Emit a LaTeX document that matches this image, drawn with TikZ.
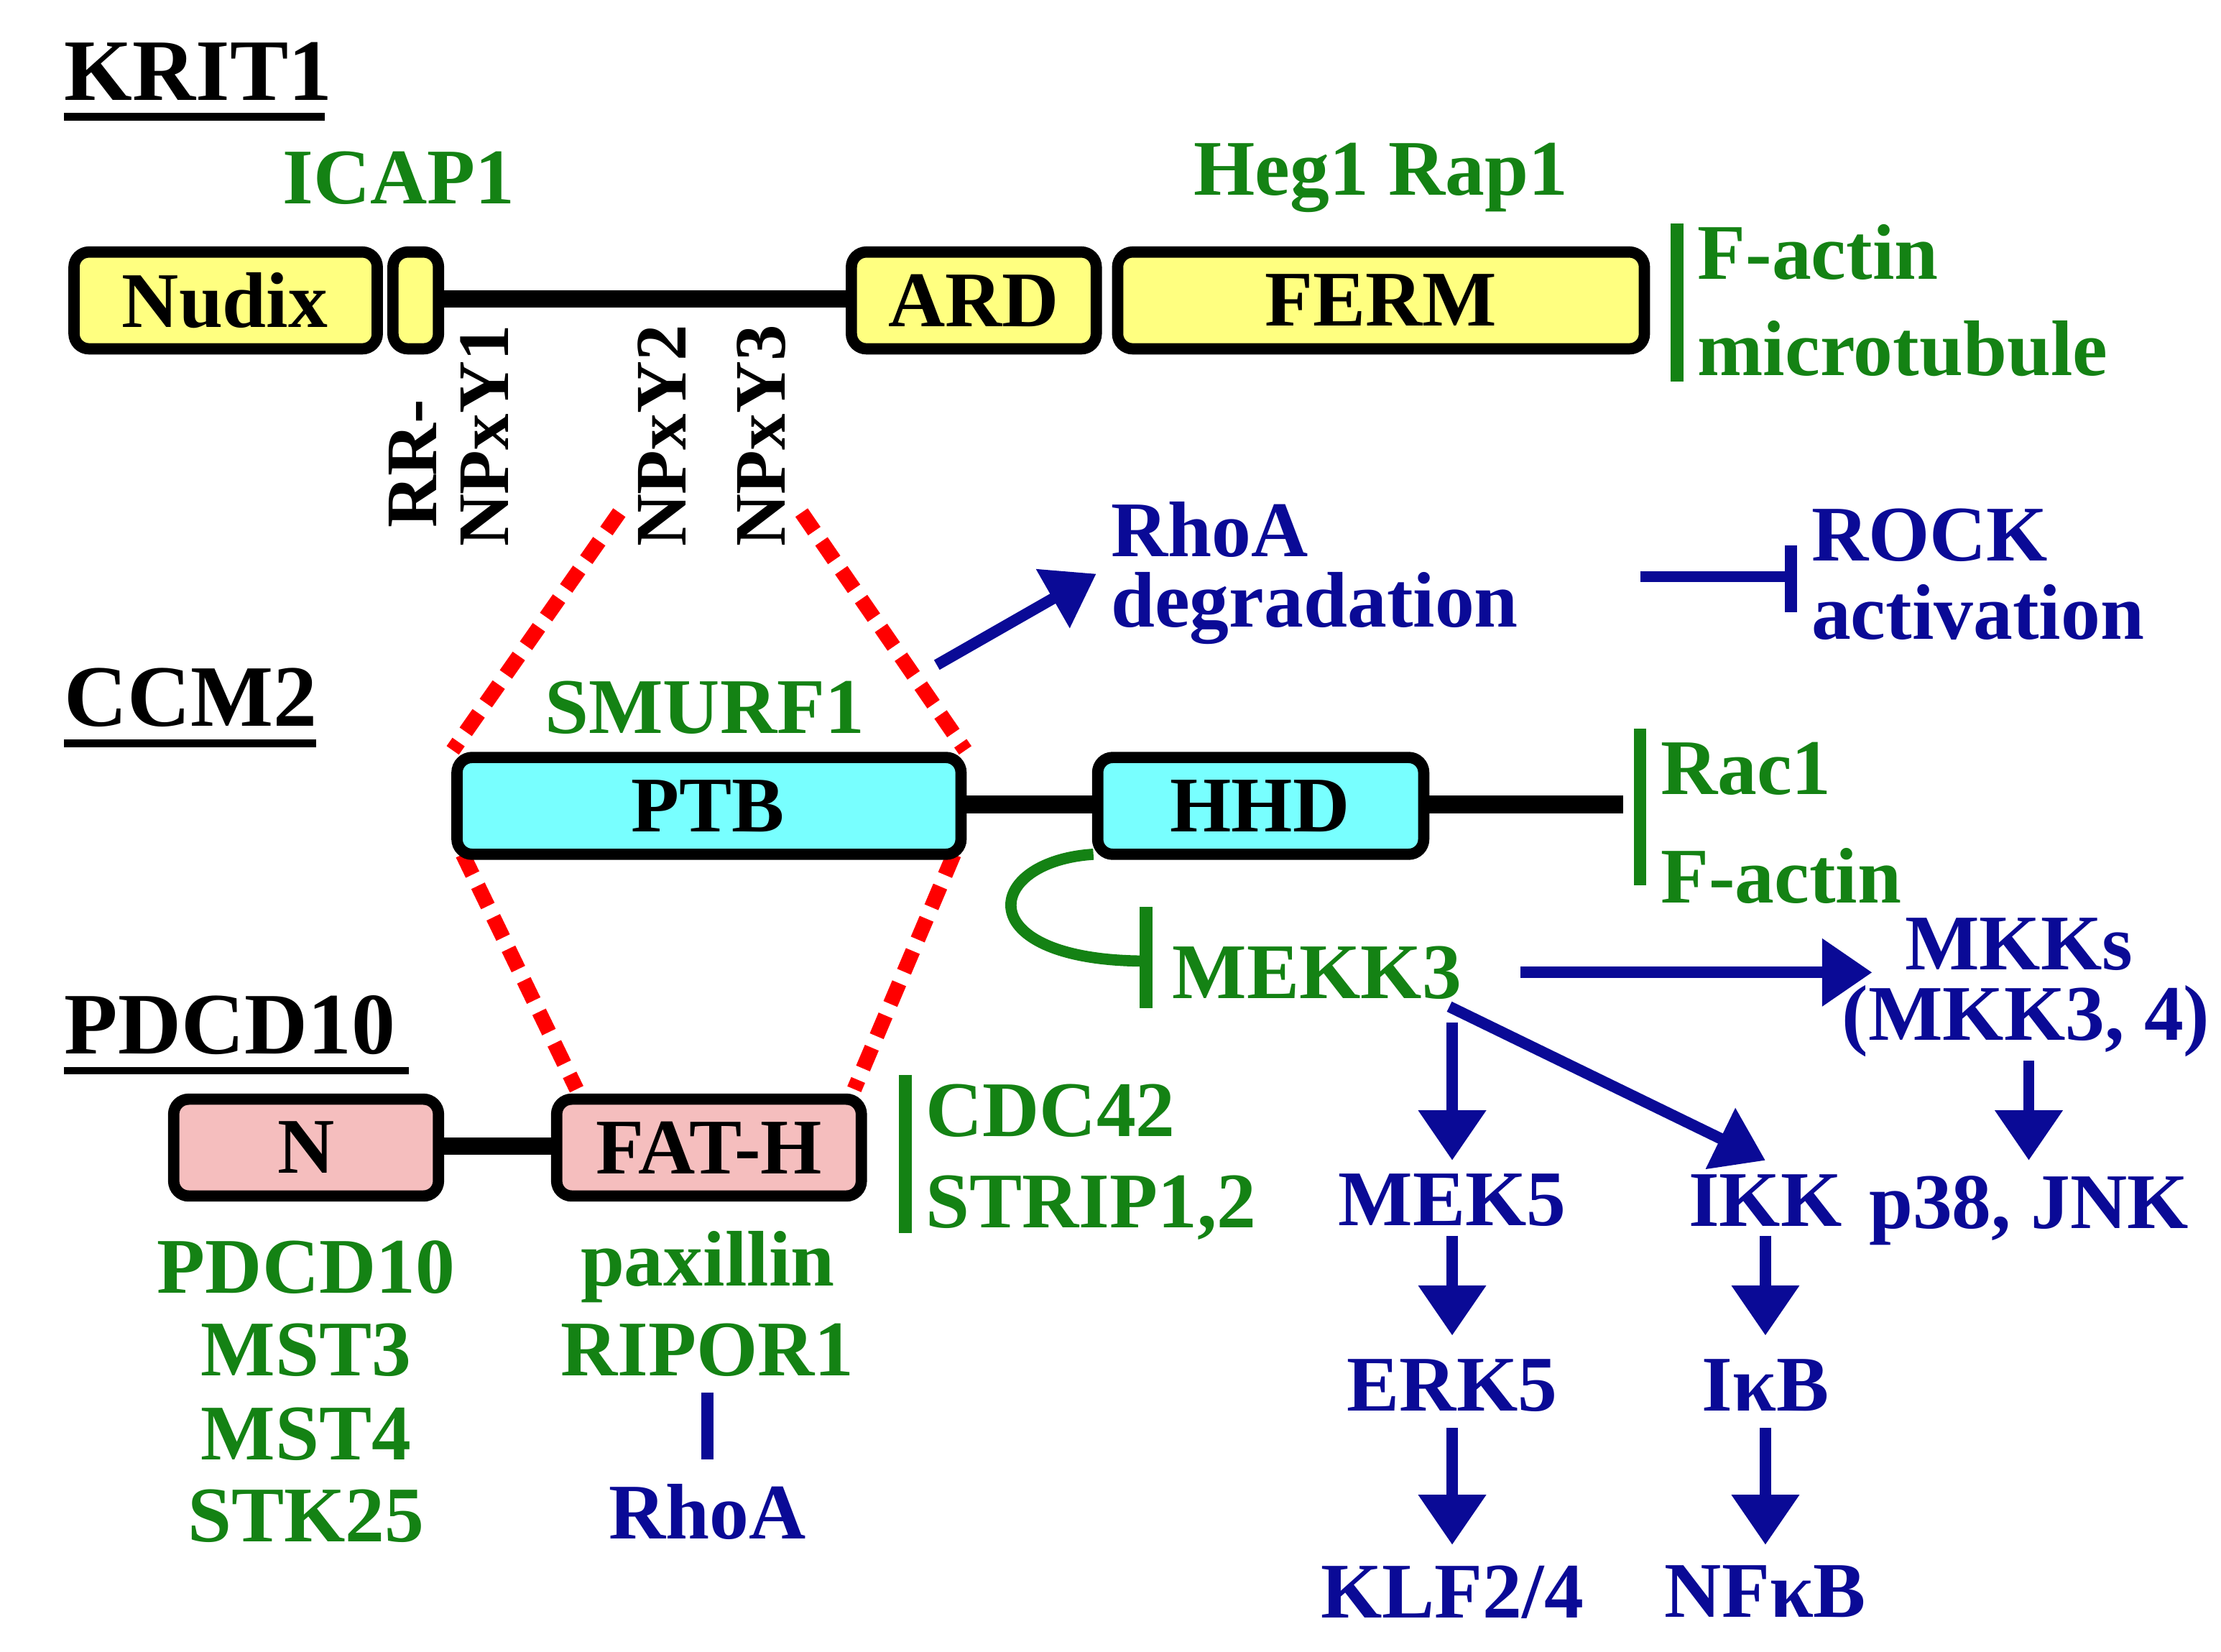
\documentclass[tikz,border=0pt]{standalone}
\usepackage{fontspec}
\setmainfont{Liberation Serif}
\usetikzlibrary{arrows.meta}
\definecolor{gr}{RGB}{20,130,20}
\definecolor{bl}{RGB}{10,10,150}
\definecolor{yel}{RGB}{255,255,128}
\definecolor{cy}{RGB}{120,255,255}
\definecolor{pk}{RGB}{245,190,190}
\begin{document}
\begin{tikzpicture}[x=0.02cm,y=-0.02cm,
 every node/.style={font=\fontsize{31.5}{34}\selectfont\bfseries,inner sep=0pt},
 dom/.style={draw=black,line width=4.5pt,rounded corners=6pt},
 g/.style={text=gr}, b/.style={text=bl},
 rot/.style={rotate=90,anchor=east,font=\fontsize{29}{32}\selectfont\bfseries},
 ttl/.style={font=\fontsize{35}{38}\selectfont\bfseries,anchor=west},
 bar/.style={line width=5pt},
 barr/.style={draw=bl,line width=4.5pt,-{Triangle[length=20pt,width=26pt]}},
 red/.style={draw=red,line width=6pt,dash pattern=on 9pt off 5pt},
 lnk/.style={line width=7pt}]
\useasboundingbox (0,0) rectangle (1560,1160);
% titles
\node[ttl] (k) at (45,50) {KRIT1};
\draw[line width=3pt] (45,82) -- (228,82);
\node[ttl] (c) at (45,490) {CCM2};
\draw[line width=3pt] (45,522) -- (222,522);
\node[ttl] (p) at (45,720) {PDCD10};
\draw[line width=3pt] (45,752) -- (287,752);
% KRIT1
\draw[lnk] (300,210) -- (600,210);
\draw[dom,fill=yel] (52,177) rectangle (265,245); \node (nud) at (158,211) {Nudix};
\draw[dom,fill=yel] (276,177) rectangle (308,245); \coordinate (sm) at (292,211);
\draw[dom,fill=yel] (598,177) rectangle (770,245); \node (ard) at (684,211) {ARD};
\draw[dom,fill=yel] (785,177) rectangle (1155,245); \node (ferm) at (970,211) {FERM};
\node[g] (icap) at (280,125) {ICAP1};
\node[g] (heg) at (970,125) {Heg1 Rap1};
\draw[gr,bar] (1178,157) -- (1178,268);
\node[g,anchor=west] (fa) at (1192,177) {F-actin};
\node[g,anchor=west] (mt) at (1192,245) {microtubule};
\node[rot] (rr) at (290,280) {RR-};
\node[rot] (n1) at (340,228) {NPxY1};
\node[rot] (n2) at (465,228) {NPxY2};
\node[rot] (n3) at (535,228) {NPxY3};
% red dashed
\draw[red] (435,360) -- (318,527);
\draw[red] (563,360) -- (678,527);
\draw[red] (325,600) -- (405,765);
\draw[red] (670,600) -- (600,765);
% CCM2
\draw[lnk] (675,565) -- (1140,565);
\draw[dom,fill=cy] (321,532) rectangle (675,600); \node (ptb) at (497,566) {PTB};
\draw[dom,fill=cy] (771,532) rectangle (1000,600); \node (hhd) at (885,566) {HHD};
\node[g] (smurf) at (495,497) {SMURF1};
\draw[gr,bar] (1152,512) -- (1152,622);
\node[g,anchor=west] (rac) at (1166,540) {Rac1};
\node[g,anchor=west] (fa2) at (1166,615) {F-actin};
\coordinate (ra0) at (658,467); \coordinate (ra1) at (770,403);
\draw[barr] (ra0) -- (ra1);
\node[b,anchor=west] (rhoa1) at (780,372) {RhoA};
\node[b,anchor=west] (deg) at (780,427) {degradation};
\coordinate (t0) at (1152,405); \coordinate (t1) at (1258,405);
\draw[bl,line width=4.5pt] (t0) -- (t1);
\draw[bl,line width=5pt] (1258,383) -- (1258,430);
\node[b,anchor=west] (rock) at (1272,376) {ROCK};
\node[b,anchor=west] (act) at (1272,430) {activation};
\coordinate (h0) at (768,600); \coordinate (h1) at (805,675);
\draw[gr,line width=4.5pt] (h0) .. controls (690,605) and (680,675) .. (h1);
\draw[gr,bar] (805,637) -- (805,708);
\node[g] (mekk) at (925,683) {MEKK3};
\coordinate (m0) at (1068,683); \coordinate (m1) at (1315,683);
\draw[barr] (m0) -- (m1);
\node[b] (mkks) at (1418,663) {MKKs};
\node[b] (mkk34) at (1423,717) {(MKK3, 4)};
\draw[barr] (1425,745) -- (1425,815);
\node[b] (p38) at (1425,850) {p38, JNK};
\draw[barr] (1020,718) -- (1020,815);
\draw[barr] (1018,707) -- (1240,815);
\node[b] (mek5) at (1020,843) {MEK5};
\node[b] (ikk) at (1240,843) {IKK};
\draw[barr] (1020,868) -- (1020,938);
\draw[barr] (1240,868) -- (1240,938);
\node[b] (erk5) at (1020,973) {ERK5};
\node[b] (ikb) at (1240,973) {IκB};
\draw[barr] (1020,1003) -- (1020,1085);
\draw[barr] (1240,1003) -- (1240,1085);
\node[b] (klf) at (1020,1118) {KLF2/4};
\node[b] (nfkb) at (1240,1118) {NFκB};
% PDCD10
\draw[lnk] (308,805) -- (392,805);
\draw[dom,fill=pk] (122,772) rectangle (308,840); \node (nn) at (215,806) {N};
\draw[dom,fill=pk] (391,772) rectangle (605,840); \node (fat) at (498,806) {FAT-H};
\draw[gr,bar] (636,755) -- (636,866);
\node[g,anchor=west] (cdc) at (650,780) {CDC42};
\node[g,anchor=west] (strip) at (650,848) {STRIP1,2};
\node[g] (pd) at (215,890) {PDCD10};
\node[g] (ms3) at (215,948) {MST3};
\node[g] (ms4) at (215,1007) {MST4};
\node[g] (stk) at (215,1065) {STK25};
\node[g] (pax) at (497,890) {paxillin};
\node[g] (rip) at (497,948) {RIPOR1};
\draw[bl,bar] (497,978) -- (497,1025);
\node[b] (rhoa2) at (497,1062) {RhoA};
\end{tikzpicture}
\end{document}
